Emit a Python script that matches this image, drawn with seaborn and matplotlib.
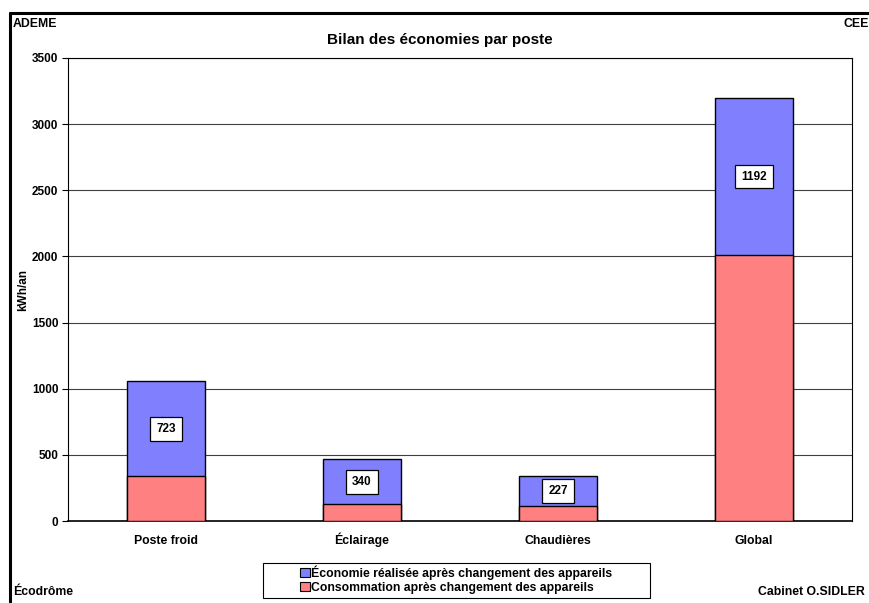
import numpy as np
import pandas as pd
import seaborn as sns
import matplotlib.pyplot as plt
from matplotlib.patches import Patch, Rectangle
from matplotlib.lines import Line2D

# valeurs (kWh/an)
postes = ["Poste froid", "Éclairage", "Chaudières", "Global"]
consommation = [337, 126, 113, 2008]
economie = [723, 340, 227, 1192]
yticks = [0, 500, 1000, 1500, 2000, 2500, 3000, 3500]

df = pd.DataFrame({"poste": postes, "conso": consommation, "eco": economie})
df["total"] = df["conso"] + df["eco"]

sns.set_style("white")
plt.rcParams["font.family"] = ["Liberation Sans", "DejaVu Sans"]
plt.rcParams["font.weight"] = "bold"
for k in ["text.color", "axes.labelcolor", "xtick.color", "ytick.color"]:
    plt.rcParams[k] = "black"

fs = 8.8

fig = plt.figure(figsize=(8.69, 6.03), dpi=100)
ax = fig.add_axes([68 / 869, 1 - 521 / 603, 784 / 869, 463 / 603])

bleu = "#8080FF"
rouge = "#FF8080"

# barres empilées : total en bleu puis consommation en rouge par-dessus
sns.barplot(data=df, x="poste", y="total", color=bleu, width=0.4,
            edgecolor="black", linewidth=1, saturation=1, ax=ax, zorder=3)
sns.barplot(data=df, x="poste", y="conso", color=rouge, width=0.4,
            edgecolor="black", linewidth=1, saturation=1, ax=ax, zorder=3)

# étiquettes de l'économie au milieu du segment bleu
for i, row in df.iterrows():
    ax.text(i, row["conso"] + row["eco"] / 2, str(row["eco"]), ha="center", va="center",
            fontsize=8.5, fontweight="bold", zorder=5,
            bbox=dict(boxstyle="square,pad=0.5", fc="white", ec="black", lw=0.9))

ax.set_xlim(-0.5, 3.5)
ax.set_ylim(0, 3500)
ax.set_yticks(yticks)
ax.set_yticklabels([str(v) for v in yticks], fontsize=8.5, fontweight="bold")
ax.set_xticks(range(len(postes)))
ax.set_xticklabels(postes, fontsize=fs, fontweight="bold", va="baseline")
ax.set_xticks([0.5, 1.5, 2.5], minor=True)
ax.tick_params(axis="x", which="major", length=0, pad=16.5)
ax.tick_params(axis="x", which="minor", length=8, direction="inout", width=0.8, color="black")
ax.tick_params(axis="y", which="major", length=4, direction="out", width=0.8, color="black",
               left=True, pad=3)
ax.set_xlabel("")
ax.set_ylabel("kWh/an", fontsize=8.5, fontweight="bold")
ax.yaxis.set_label_coords(-39 / 784, (521 - 290) / 463)

ax.grid(axis="y", color="#404040", lw=0.8, zorder=0)
ax.set_axisbelow(True)
for s in ax.spines.values():
    s.set_color("black")
    s.set_linewidth(0.8)
ax.spines["bottom"].set_linewidth(1.2)

fig.text(440 / 869, 1 - 40 / 603, "Bilan des économies par poste", ha="center", va="center",
         fontsize=11, fontweight="bold")

# cadre extérieur (gauche et haut)
fig.add_artist(Line2D([9.5 / 869, 9.5 / 869], [0, 1 - 12.5 / 603], color="black", lw=2.2,
                      transform=fig.transFigure))
fig.add_artist(Line2D([9.5 / 869, 1], [1 - 12.5 / 603, 1 - 12.5 / 603], color="black", lw=2.2,
                      transform=fig.transFigure))

fig.text(13 / 869, 1 - 24 / 603, "ADEME", ha="left", va="center", fontsize=fs, fontweight="bold")
fig.text(869 / 869, 1 - 24 / 603, "CEE", ha="right", va="center", fontsize=fs, fontweight="bold")
fig.text(13 / 869, 1 - 592 / 603, "Écodrôme", ha="left", va="center", fontsize=fs,
         fontweight="bold")
fig.text(865 / 869, 1 - 592 / 603, "Cabinet O.SIDLER", ha="right", va="center", fontsize=fs,
         fontweight="bold")

# cadre de la légende
fig.add_artist(Rectangle((263 / 869, 1 - 598 / 603), 387 / 869, 35 / 603, fill=False,
                         ec="black", lw=0.8, transform=fig.transFigure))
handles = [Patch(facecolor=bleu, edgecolor="black", lw=0.8),
           Patch(facecolor=rouge, edgecolor="black", lw=0.8)]
labels = ["Économie réalisée après changement des appareils",
          "Consommation après changement des appareils"]
leg = fig.legend(handles, labels, loc="upper left", bbox_to_anchor=(298 / 869, 1 - 563 / 603),
                 fontsize=fs, frameon=False,
                 handlelength=0.75, handleheight=0.75, handletextpad=0.15, borderpad=0.2,
                 labelspacing=0.15, borderaxespad=0)
for t in leg.get_texts():
    t.set_fontweight("bold")

fig.savefig("out.png", dpi=100)
